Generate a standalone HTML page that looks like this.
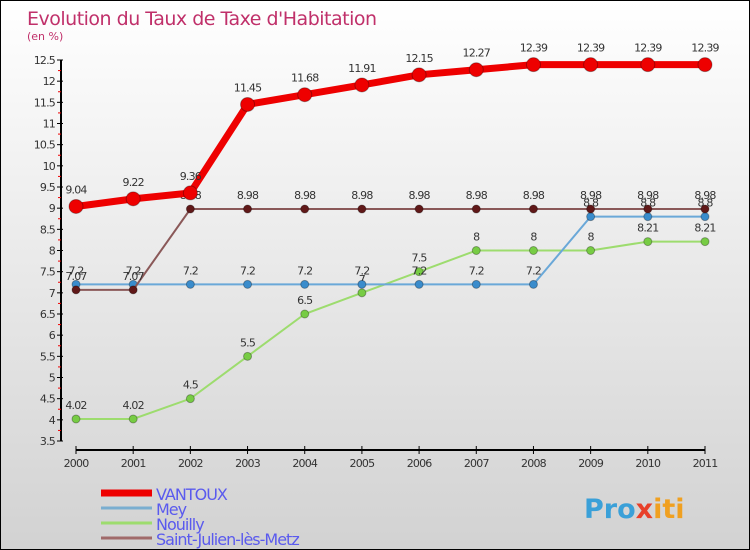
<!DOCTYPE html>
<html><head><meta charset="utf-8"><style>
body{margin:0}
#c{position:relative;width:748px;height:548px;border:1px solid #000;background:linear-gradient(#fff,#d2d2d2);font-family:"DejaVu Sans","Liberation Sans",sans-serif;overflow:hidden}
svg text{font-family:"DejaVu Sans","Liberation Sans",sans-serif}
</style></head><body>
<div id="c">
<svg id="s" width="748" height="548">
<text x="26" y="24" font-size="19" fill="#c0306a" style="letter-spacing:-0.5px">Evolution du Taux de Taxe d'Habitation</text>
<text x="26" y="39" font-size="11" fill="#c0306a">(en %)</text>
<text x="390" y="0" font-size="1" fill="none"></text>
<text x="583" y="517" font-size="27" font-weight="bold" fill="#3aa0d8">Pro<tspan fill="#e8402a">x</tspan><tspan fill="#f0a020">iti</tspan></text>
</svg>
</div>
<script>
const years=[2000,2001,2002,2003,2004,2005,2006,2007,2008,2009,2010,2011];
const yTicks=[3.5,4,4.5,5,5.5,6,6.5,7,7.5,8,8.5,9,9.5,10,10.5,11,11.5,12,12.5];
const vantoux=[9.04,9.22,9.36,11.45,11.68,11.91,12.15,12.27,12.39,12.39,12.39,12.39];
const mey=[7.2,7.2,7.2,7.2,7.2,7.2,7.2,7.2,7.2,8.8,8.8,8.8];
const nouilly=[4.02,4.02,4.5,5.5,6.5,7,7.5,8,8,8,8.21,8.21];
const stjulien=[7.07,7.07,8.98,8.98,8.98,8.98,8.98,8.98,8.98,8.98,8.98,8.98];
const names=["VANTOUX","Mey","Nouilly","Saint-Julien-lès-Metz"];
const s=document.getElementById('s');const NS='http://www.w3.org/2000/svg';
const X=i=>75+i*(704-75)/11;
const Y=v=>440-(v-3.5)*(440-59)/9;
function el(t,a,p){const e=document.createElementNS(NS,t);for(const k in a)e.setAttribute(k,a[k]);(p||s).appendChild(e);return e;}
// axes
const ax=el('line',{x1:60,y1:Y(12.5),x2:60,y2:Y(3.5),stroke:'#000','stroke-width':2});

const bx=el('line',{x1:75,y1:449,x2:704,y2:449,stroke:'#000','stroke-width':2});

yTicks.forEach((v,i)=>{
 el('line',{x1:56,y1:Y(v),x2:62,y2:Y(v),stroke:'#000'});
 if(i<yTicks.length-1)el('line',{x1:57,y1:Y(v+0.25),x2:60,y2:Y(v+0.25),stroke:'#e00'});
 const t=el('text',{x:54,y:Y(v)+4,'font-size':11,'text-anchor':'end',fill:'#333','letter-spacing':'-0.8'});t.textContent=v;
 
});
years.forEach((y,i)=>{
 el('line',{x1:X(i),y1:445,x2:X(i),y2:453,stroke:'#000'});
 const t=el('text',{x:X(i),y:466,'font-size':11,'text-anchor':'middle',fill:'#333','letter-spacing':'-0.8'});t.textContent=y;
 
});
function series(d,col,dot,w,r,name){
 const g=el('g',{});
 el('polyline',{points:d.map((v,i)=>X(i)+','+Y(v)).join(' '),fill:'none',stroke:col,'stroke-width':w},g);
 d.forEach((v,i)=>{
  const c=el('circle',{cx:X(i),cy:Y(v),r:r,fill:dot,stroke:'rgba(0,0,0,0.3)'},g);
  
  const t=el('text',{x:X(i),y:Y(v)-(r+6),'font-size':11,'text-anchor':'middle',fill:'#333','letter-spacing':'-0.8'},g);t.textContent=v;
 });
}
series(nouilly,'#9ddc6e','#77cc44',2,4,'series-nouilly');
series(mey,'#6aa8d8','#3a8ccc',2,4,'series-mey');
series(stjulien,'#8a5858','#601818',2,4,'series-saint-julien');
series(vantoux,'#ee0000','#ee0000',7,7,'series-vantoux');
// legend
const cols=['#ee0000','#7aaed0','#9ddc6e','#a06a6a'],ws=[7,3,3,3];
names.forEach((n,i)=>{
 const y=492+i*15;
 const g=el('g',{});
 el('line',{x1:100,y1:y,x2:151,y2:y,stroke:cols[i],'stroke-width':ws[i]},g);
 const t=el('text',{x:155,y:y+7,'font-size':16,fill:'#5a5aee','letter-spacing':'-1'},g);t.textContent=n;
});
</script>
</body></html>
